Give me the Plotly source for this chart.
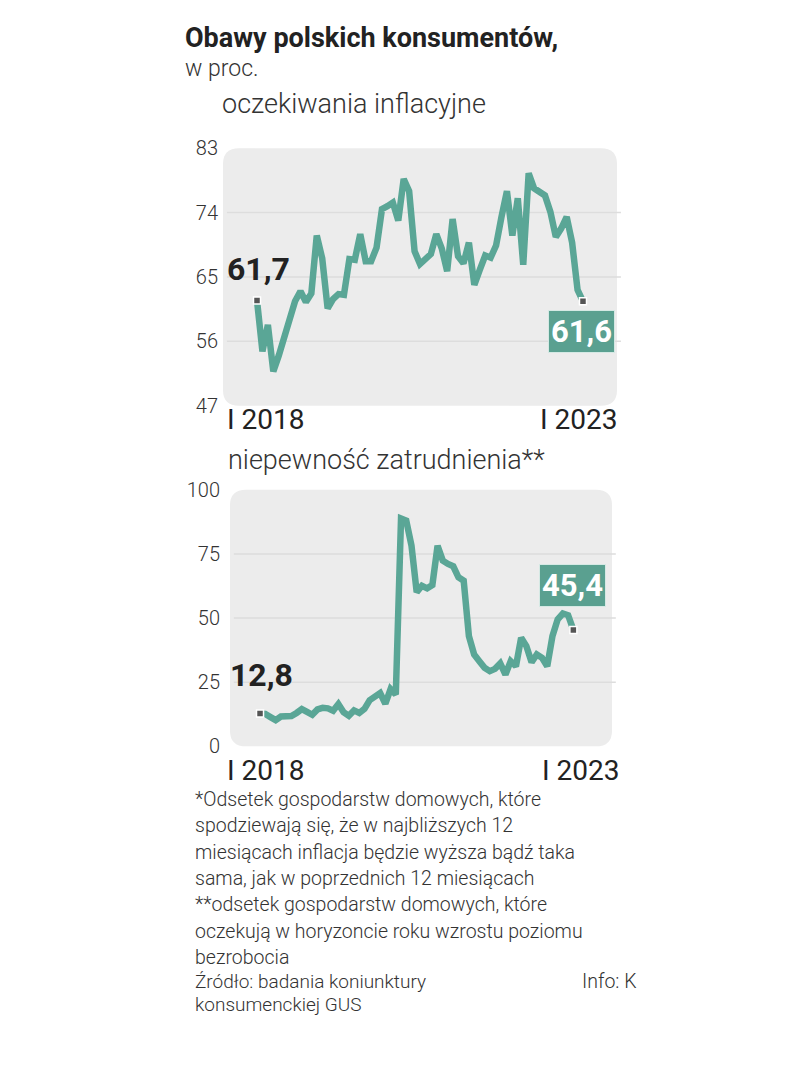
import plotly.graph_objects as go

# monthly index, I 2018 .. I 2023
months = list(range(61))

# oczekiwania inflacyjne*, w proc.
inflacja = [61.7, 54.6, 58.3, 51.8, 54.0, 56.4, 59.5, 61.6, 63.0, 61.5,
            62.7, 70.8, 67.6, 60.6, 61.9, 62.6, 62.5, 67.5, 67.4, 71.0,
            67.2, 67.2, 69.1, 74.5, 74.9, 75.4, 72.9, 78.7, 77.0, 68.6,
            66.8, 67.4, 68.2, 71.0, 69.0, 65.8, 73.1, 67.9, 66.9, 69.8,
            63.9, 66.0, 68.0, 67.7, 69.4, 73.4, 77.0, 70.8, 76.0, 66.7,
            79.5, 77.4, 76.9, 76.4, 74.1, 70.6, 71.8, 73.4, 69.8, 63.2,
            61.6]

# niepewnosc zatrudnienia**, w proc.
zatrudnienie = [12.8, 12.6, 11.4, 10.2, 11.6, 11.7, 11.8, 13.0, 14.5, 13.4,
                12.3, 14.4, 15.0, 14.8, 13.9, 16.5, 13.3, 11.9, 14.0, 13.0,
                14.6, 18.0, 19.3, 20.8, 16.6, 22.3, 20.2, 88.8, 88.0, 78.3,
                60.1, 62.6, 61.6, 62.9, 78.2, 72.4, 71.1, 70.2, 65.9, 64.6,
                43.0, 35.8, 33.2, 30.6, 29.3, 30.2, 32.3, 28.0, 33.2, 31.2,
                42.3, 39.1, 32.8, 35.8, 34.5, 31.2, 43.0, 49.5, 51.8, 51.1,
                45.4]

ticks_top = [47, 56, 65, 74, 83]
ticks_bottom = [0, 25, 50, 75, 100]
grid_top = [56, 65, 74]
grid_bottom = [25, 50, 75]

footnotes = [
    "*Odsetek gospodarstw domowych, które",
    "spodziewają się, że w najbliższych 12",
    "miesiącach inflacja będzie wyższa bądź taka",
    "sama, jak w poprzednich 12 miesiącach",
    "**odsetek gospodarstw domowych, które",
    "oczekują w horyzoncie roku wzrostu poziomu",
    "bezrobocia",
]
source = ["Źródło: badania koniunktury", "konsumenckiej GUS"]

W, H = 809, 1080
# page offset / squash seen in the rendered screenshot
OX, OY, SY = 8, 22, 0.976
TEAL = "#5aa696"
TEAL_BOX = "#5aa090"
DARK = "#222222"
TXT = "#333333"
FONT = "Roboto"


def px(x):
    return (x - OX) / W


def py(y):
    return 1 - (y - OY) / SY / H


def rounded_box(x0, y0, x1, y1, r=16):
    '''rounded rectangle path in paper coords, input in pixels'''
    rx, ry = r / W, r / H
    a, b, c, d = px(x0), py(y1), px(x1), py(y0)
    return (f"M {a + rx},{b} L {c - rx},{b} Q {c},{b} {c},{b + ry} "
            f"L {c},{d - ry} Q {c},{d} {c - rx},{d} L {a + rx},{d} "
            f"Q {a},{d} {a},{d - ry} L {a},{b + ry} Q {a},{b} {a + rx},{b} Z")


fig = go.Figure()

fig.add_trace(go.Scatter(
    x=months, y=inflacja, xaxis="x", yaxis="y", mode="lines",
    line=dict(color=TEAL, width=6.5), hoverinfo="skip",
))
fig.add_trace(go.Scatter(
    x=[months[0], months[-1]], y=[inflacja[0], inflacja[-1]],
    xaxis="x", yaxis="y", mode="markers",
    marker=dict(symbol="square", size=7, color="#555555",
                line=dict(color="white", width=1.5)),
    hoverinfo="skip",
))
fig.add_trace(go.Scatter(
    x=months, y=zatrudnienie, xaxis="x2", yaxis="y2", mode="lines",
    line=dict(color=TEAL, width=6.5), hoverinfo="skip",
))
fig.add_trace(go.Scatter(
    x=[months[0], months[-1]], y=[zatrudnienie[0], zatrudnienie[-1]],
    xaxis="x2", yaxis="y2", mode="markers",
    marker=dict(symbol="square", size=7, color="#555555",
                line=dict(color="white", width=1.5)),
    hoverinfo="skip",
))

shapes = [
    dict(type="path", xref="paper", yref="paper", layer="below",
         path=rounded_box(223, 150, 617, 407), fillcolor="#ececec", line_width=0),
    dict(type="path", xref="paper", yref="paper", layer="below",
         path=rounded_box(230, 491, 612, 747), fillcolor="#ececec", line_width=0),
]
for g in grid_top:
    shapes.append(dict(type="line", xref="x domain", yref="y", x0=0.01, x1=1.01,
                       y0=g, y1=g, line=dict(color="#dddddd", width=1.5),
                       layer="below"))
for g in grid_bottom:
    shapes.append(dict(type="line", xref="x2 domain", yref="y2", x0=0.01, x1=1.01,
                       y0=g, y1=g, line=dict(color="#dddddd", width=1.5),
                       layer="below"))

ann = []


def text(x, y, s, size, color=TXT, weight=300, xanchor="left"):
    ann.append(dict(xref="paper", yref="paper", x=px(x), y=py(y), text=s,
                    showarrow=False, xanchor=xanchor, yanchor="middle",
                    font=dict(family=FONT, size=size, color=color, weight=weight)))


text(183, 40, "Obawy polskich konsumentów,", 27, DARK, 700)
text(183, 70, "w proc.", 23)
text(220, 106, "oczekiwania inflacyjne", 27)
text(226, 461, "niepewność zatrudnienia**", 27)
text(225, 421, "I 2018", 28, DARK, 400)
text(620, 421, "I 2023", 28, DARK, 400, "right")
text(225, 771, "I 2018", 28, DARK, 400)
text(622, 771, "I 2023", 28, DARK, 400, "right")

for i, line in enumerate(footnotes):
    text(193, 800 + i * 26.3, line, 19.5)
text(193, 982, source[0], 19)
text(193, 1005, source[1], 19)
text(638, 982, "Info: K", 19.5, xanchor="right")

# value labels at the first and last points
ann.append(dict(xref="x", yref="y", x=months[0], y=inflacja[0], yshift=32,
                xshift=1, text="61,7", showarrow=False,
                font=dict(family=FONT, size=32, color=DARK, weight=700)))
ann.append(dict(xref="x", yref="y", x=months[-1], y=inflacja[-1], yshift=-30,
                xshift=-1, text="61,6", showarrow=False, bgcolor=TEAL_BOX,
                bordercolor="#d5e9e4", borderwidth=1, borderpad=2,
                font=dict(family=FONT, size=31, color="white", weight=700)))
ann.append(dict(xref="x2", yref="y2", x=months[0], y=zatrudnienie[0], yshift=38,
                xshift=1, text="12,8", showarrow=False,
                font=dict(family=FONT, size=32, color=DARK, weight=700)))
ann.append(dict(xref="x2", yref="y2", x=months[-1], y=zatrudnienie[-1], yshift=44,
                xshift=-1, text="45,4", showarrow=False, bgcolor=TEAL_BOX,
                bordercolor="#d5e9e4", borderwidth=1, borderpad=2,
                font=dict(family=FONT, size=31, color="white", weight=700)))

hidden_x = dict(showgrid=False, zeroline=False, showline=False,
                showticklabels=False, ticks="", fixedrange=True)
tickfont = dict(family=FONT, size=20, color=TXT, weight=300)

fig.update_layout(
    width=W, height=H,
    margin=dict(l=0, r=0, t=0, b=0),
    paper_bgcolor="white", plot_bgcolor="rgba(0,0,0,0)",
    showlegend=False,
    xaxis=dict(hidden_x, domain=[px(223), px(617)], range=[-6.26, 66.26]),
    yaxis=dict(domain=[py(407), py(150)], range=[47, 83], tickvals=ticks_top,
               showgrid=False, zeroline=False, ticks="", tickfont=tickfont,
               ticklabelstandoff=4, anchor="x"),
    xaxis2=dict(hidden_x, domain=[px(230), px(612)], range=[-5.75, 67.4],
                anchor="y2"),
    yaxis2=dict(domain=[py(747), py(491)], range=[0, 100], tickvals=ticks_bottom,
                showgrid=False, zeroline=False, ticks="", tickfont=tickfont,
                ticklabelstandoff=9, anchor="x2"),
    shapes=shapes,
    annotations=ann,
)

fig.write_html("out.html")
